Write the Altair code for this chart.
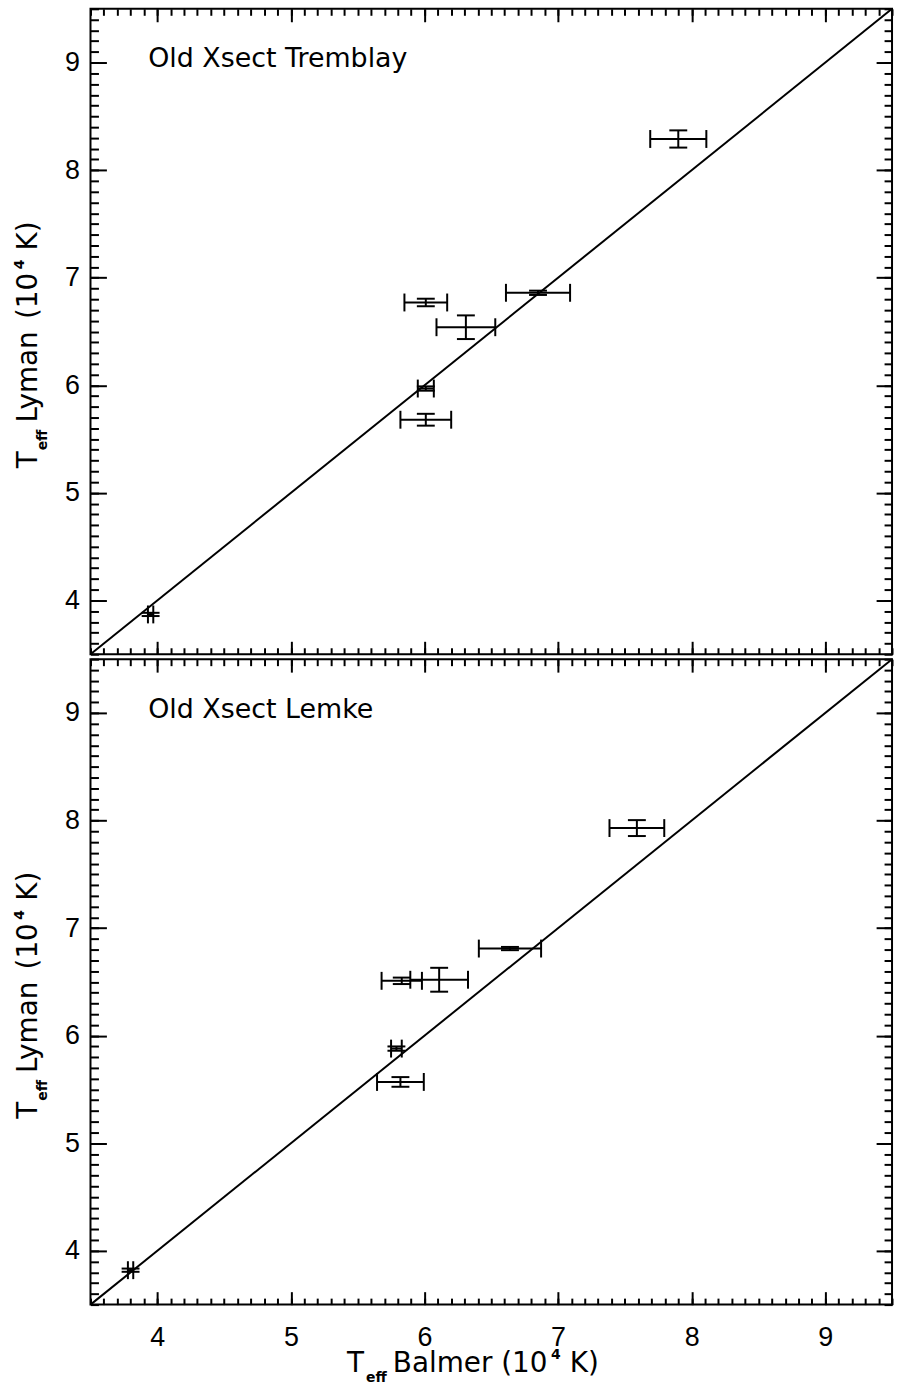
import altair as alt
import pandas as pd

# ---------------- data ----------------
top_x = [7.90, 6.85, 6.01, 6.31, 6.01, 6.01, 3.95]
top_xerr = [0.21, 0.24, 0.16, 0.22, 0.06, 0.19, 0.02]
top_y = [8.29, 6.86, 6.77, 6.54, 5.97, 5.68, 3.87]
top_yerr = [0.08, 0.02, 0.035, 0.11, 0.02, 0.055, 0.015]

bot_x = [7.59, 6.64, 5.83, 6.11, 5.79, 5.82, 3.80]
bot_xerr = [0.205, 0.233, 0.151, 0.216, 0.04, 0.175, 0.02]
bot_y = [7.93, 6.81, 6.51, 6.52, 5.88, 5.57, 3.82]
bot_yerr = [0.074, 0.015, 0.03, 0.111, 0.02, 0.045, 0.015]

panel_labels = ["Old Xsect Tremblay", "Old Xsect Lemke"]
xtitle_parts = ["T", "eff", "Balmer", "(10", "4", "K)"]
ytitle_parts = ["T", "eff", "Lyman", "(10", "4", "K)"]

major_ticks = [4, 5, 6, 7, 8, 9]
minor_ticks = [round(3.5 + 0.1 * i, 1) for i in range(61)]
diag = [3.5, 9.5]
domain = [3.5, 9.5]

W, H = 806, 649
MAIN_FONT = "DejaVu Sans"
TICK_FONT = "Liberation Sans"


def sc():
    return alt.Scale(domain=domain, nice=False, zero=False)


diag_df = pd.DataFrame({"d": diag})


def tick_axis(orient, values, size, offset):
    return alt.Axis(orient=orient, values=values, tickSize=size, tickWidth=2,
                    tickColor="black", labels=False, domain=False, grid=False,
                    title=None, offset=offset, ticks=True)


def axis_layer(xaxis=None, yaxis=None):
    return alt.Chart(diag_df).mark_point(opacity=0, size=1).encode(
        x=alt.X("d:Q", scale=sc(), axis=xaxis),
        y=alt.Y("d:Q", scale=sc(), axis=yaxis),
    )


def text_piece(s, x, y, size, bold=False, angle=0):
    kw = dict(align="left", baseline="alphabetic", font=MAIN_FONT, fontSize=size,
              color="black", fontWeight="bold" if bold else "normal")
    if angle:
        kw["angle"] = angle
    return alt.Chart(pd.DataFrame({"t": [s]})).mark_text(**kw).encode(
        text="t:N", x=alt.value(x), y=alt.value(y))


def ytitle_layers():
    # reading upward (rotated 270); offsets along text direction
    start = 462
    base = -54
    p = ytitle_parts
    return [
        text_piece(p[0], base, start, 28, angle=270),
        text_piece(p[1], base + 10, start - 18, 14, bold=True, angle=270),
        text_piece(p[2], base, start - 46, 28, angle=270),
        text_piece(p[3], base, start - 150, 28, angle=270),
        text_piece(p[4], base - 13, start - 200, 14, bold=True, angle=270),
        text_piece(p[5], base, start - 219, 28, angle=270),
    ]


def xtitle_layers():
    base = 717
    p = xtitle_parts
    return [
        text_piece(p[0], 258, base, 28),
        text_piece(p[1], 277, base + 10, 14, bold=True),
        text_piece(p[2], 304, base, 28),
        text_piece(p[3], 413, base, 28),
        text_piece(p[4], 463, base - 13, 14, bold=True),
        text_piece(p[5], 482, base, 28),
    ]


def panel(xs, xe, ys, ye, label, bottom):
    df = pd.DataFrame({"x": xs, "xerr": xe, "y": ys, "yerr": ye})
    df["xlo"] = df["x"] - df["xerr"]
    df["xhi"] = df["x"] + df["xerr"]
    df["ylo"] = df["y"] - df["yerr"]
    df["yhi"] = df["y"] + df["yerr"]
    xcaps = pd.DataFrame({"cx": list(df["xlo"]) + list(df["xhi"]),
                          "cy": list(df["y"]) * 2})
    ycaps = pd.DataFrame({"cx": list(df["x"]) * 2,
                          "cy": list(df["ylo"]) + list(df["yhi"])})

    line = alt.Chart(diag_df).mark_line(color="black", strokeWidth=2).encode(
        x=alt.X("d:Q", scale=sc(), axis=None),
        y=alt.Y("d:Q", scale=sc(), axis=None))
    xbar = alt.Chart(df).mark_rule(color="black", strokeWidth=2).encode(
        x=alt.X("xlo:Q", scale=sc(), axis=None), x2="xhi:Q",
        y=alt.Y("y:Q", scale=sc(), axis=None))
    ybar = alt.Chart(df).mark_rule(color="black", strokeWidth=2).encode(
        x=alt.X("x:Q", scale=sc(), axis=None),
        y=alt.Y("ylo:Q", scale=sc(), axis=None), y2="yhi:Q")
    xcap = alt.Chart(xcaps).mark_tick(orient="vertical", size=18, thickness=2,
                                      color="black", opacity=1).encode(
        x=alt.X("cx:Q", scale=sc(), axis=None),
        y=alt.Y("cy:Q", scale=sc(), axis=None))
    ycap = alt.Chart(ycaps).mark_tick(orient="horizontal", size=18, thickness=2,
                                      color="black", opacity=1).encode(
        x=alt.X("cx:Q", scale=sc(), axis=None),
        y=alt.Y("cy:Q", scale=sc(), axis=None))

    layers = [
        # inward ticks on all four sides
        axis_layer(xaxis=tick_axis("top", major_ticks, 13, -H)),
        axis_layer(xaxis=tick_axis("top", minor_ticks, 6.5, -H)),
        axis_layer(xaxis=tick_axis("bottom", major_ticks, 13, -H)),
        axis_layer(xaxis=tick_axis("bottom", minor_ticks, 6.5, -H)),
        axis_layer(yaxis=tick_axis("right", major_ticks, 16, -W)),
        axis_layer(yaxis=tick_axis("right", minor_ticks, 8, -W)),
        axis_layer(yaxis=tick_axis("left", major_ticks, 16, -W)),
        axis_layer(yaxis=tick_axis("left", minor_ticks, 8, -W)),
        # y labels
        axis_layer(yaxis=alt.Axis(orient="left", values=major_ticks, ticks=False,
                                  tickSize=0, domain=False, grid=False, title=None,
                                  labelFont=TICK_FONT, labelFontSize=27,
                                  labelColor="black", labelPadding=11, format="d")),
        line, xbar, ybar, xcap, ycap,
        text_piece(label, 58, 59, 27),
    ] + ytitle_layers()
    if bottom:
        layers.append(axis_layer(xaxis=alt.Axis(
            orient="bottom", values=major_ticks, ticks=False, tickSize=0,
            domain=False, grid=False, title=None, labelFont=TICK_FONT,
            labelFontSize=27, labelColor="black", labelPadding=20, format="d")))
        layers += xtitle_layers()

    return alt.layer(*layers).resolve_axis(x="independent", y="independent").properties(
        width=W, height=H)


top = panel(top_x, top_xerr, top_y, top_yerr, panel_labels[0], False)
bottom = panel(bot_x, bot_xerr, bot_y, bot_yerr, panel_labels[1], True)

chart = alt.vconcat(top, bottom, spacing=-9).configure_view(
    stroke="black", strokeWidth=2).properties(
    padding={"left": 12, "top": 0, "right": 0, "bottom": 0},
    background="white")

chart.save("out.html", embed_options={"renderer": "svg", "actions": False})
